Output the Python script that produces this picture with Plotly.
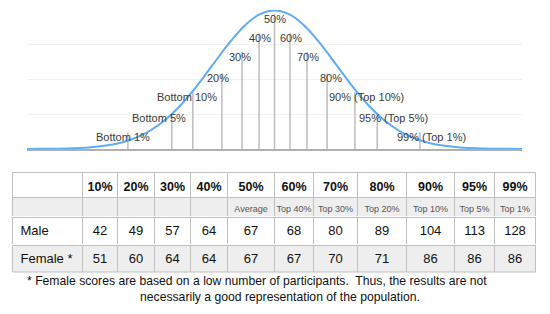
import plotly.graph_objects as go

# ---------------- data ----------------
curve_x = [-4, -3.75, -3.5, -3.25, -3, -2.75, -2.5, -2.25, -2, -1.75, -1.5, -1.25, -1, -0.75, -0.5, -0.25,
           0, 0.25, 0.5, 0.75, 1, 1.25, 1.5, 1.75, 2, 2.25, 2.5, 2.75, 3, 3.25, 3.5, 3.75, 4]
curve_y = [0.0001, 0.0004, 0.0009, 0.0020, 0.0044, 0.0091, 0.0175, 0.0317, 0.0540, 0.0863, 0.1295, 0.1826,
           0.2420, 0.3011, 0.3521, 0.3867, 0.3989, 0.3867, 0.3521, 0.3011, 0.2420, 0.1826, 0.1295, 0.0863,
           0.0540, 0.0317, 0.0175, 0.0091, 0.0044, 0.0020, 0.0009, 0.0004, 0.0001]

marker_labels = ["Bottom 1%", "Bottom 5%", "Bottom 10%", "20%", "30%", "40%", "50%",
                 "60%", "70%", "80%", "90% (Top 10%)", "95% (Top 5%)", "99% (Top 1%)"]
marker_z = [-2.37, -1.66, -1.32, -0.85, -0.525, -0.25, 0, 0.25, 0.525, 0.85, 1.30, 1.66, 2.35]

table_cols = ["10%", "20%", "30%", "40%", "50%", "60%", "70%", "80%", "90%", "95%", "99%"]
table_sub = ["", "", "", "", "Average", "Top 40%", "Top 30%", "Top 20%", "Top 10%", "Top 5%", "Top 1%"]
row_names = ["Male", "Female *"]
male = [42, 49, 57, 64, 67, 68, 80, 89, 104, 113, 128]
female = [51, 60, 64, 64, 67, 67, 70, 71, 86, 86, 86]

footnote = ["* Female scores are based on a low number of participants.  Thus, the results are not",
            "necessarily a good representation of the population."]

# ---------------- styles / positions ----------------
W, H = 550, 314
FONT = "Liberation Sans, Arial, Helvetica, sans-serif"
label_y = [0.0345, 0.089, 0.150, 0.204, 0.265, 0.319, 0.374, 0.319, 0.265, 0.204, 0.150, 0.089, 0.0345]
label_shift = [-5, -13, -6, -4, -2, 1, 0, 1, 1, 4, 12, 16, 12]
col_widths = [70, 35, 37, 36, 37, 47, 39, 44, 49, 48, 40, 41]
GRID = "#c0c0c0"
ALT = "#eeeeee"
NB = "\u00a0"
TBL_L, TBL_R = 12.5, 536
row_edges = [172, 197, 217, 245, 272]  # pixel tops/bottoms of the table rows


def px_x(p):
    return p / W


def px_y(p):
    return (H - p) / H


def nb(s):
    return str(s).replace(" ", NB)


fig = go.Figure()

# vertical percentile lines
vx, vy = [], []
for z, ly in zip(marker_z, label_y):
    vx += [z, z, None]
    vy += [0, ly + 0.014, None]
fig.add_trace(go.Scatter(x=vx, y=vy, mode="lines", line=dict(color="#bdbdbd", width=1.5),
                         hoverinfo="skip", showlegend=False))

# bell curve
fig.add_trace(go.Scatter(x=curve_x, y=curve_y, mode="lines", line=dict(color="#5eacf3", width=2, shape="spline"),
                         hoverinfo="skip", showlegend=False))

for lab, z, ly, sh in zip(marker_labels, marker_z, label_y, label_shift):
    fig.add_annotation(x=z, y=ly, text=lab, showarrow=False, xshift=sh,
                       font=dict(family=FONT, size=11, color="#3a3a3a"), xanchor="center", yanchor="middle")

n = len(table_cols) + 1
aligns = ["left"] + ["center"] * (n - 1)
x_dom = [px_x(TBL_L), px_x(TBL_R)]

rows = [
    ([""] + [f"<b>{c}</b>" for c in table_cols], "white", 12.5, "#111111"),
    ([""] + [nb(s) for s in table_sub], ALT, 9, "#555555"),
    ([nb(row_names[0])] + [str(v) for v in male], "white", 13, "#111111"),
    ([nb(row_names[1])] + [str(v) for v in female], ALT, 13, "#111111"),
]
for i, (vals, fillc, fsize, fcol) in enumerate(rows):
    top, bot = row_edges[i], row_edges[i + 1]
    fig.add_trace(go.Table(
        domain=dict(x=x_dom, y=[px_y(bot), px_y(top)]),
        columnwidth=col_widths,
        header=dict(values=vals, height=bot - top, align=aligns,
                    fill=dict(color=fillc), line=dict(color=GRID, width=1),
                    font=dict(family=FONT, size=fsize, color=fcol)),
        cells=dict(values=[[] for _ in vals], height=1, line=dict(color=GRID, width=0),
                   fill=dict(color="rgba(0,0,0,0)")),
    ))

# bottom border of the table
fig.add_shape(type="line", xref="paper", yref="paper", x0=px_x(TBL_L), x1=px_x(TBL_R),
              y0=px_y(row_edges[-1]), y1=px_y(row_edges[-1]), line=dict(color=GRID, width=1))

# footnote
fig.add_annotation(x=px_x(256.5), y=px_y(281), xref="paper", yref="paper", text=footnote[0], showarrow=False,
                   font=dict(family=FONT, size=12.2, color="#111111"), xanchor="center", yanchor="middle")
fig.add_annotation(x=px_x(279.5), y=px_y(297), xref="paper", yref="paper", text=footnote[1], showarrow=False,
                   font=dict(family=FONT, size=12.2, color="#111111"), xanchor="center", yanchor="middle")

fig.update_layout(
    width=W, height=H, margin=dict(l=0, r=0, t=0, b=0),
    paper_bgcolor="white", plot_bgcolor="white", showlegend=False,
    xaxis=dict(domain=[px_x(27), px_x(522)], range=[-4, 4], showgrid=False, zeroline=False,
               showticklabels=False, ticks="", showline=True, linecolor="#b0b0b0", linewidth=2),
    yaxis=dict(domain=[px_y(149), px_y(10)], range=[0, 0.4], dtick=0.1, showgrid=True, gridcolor="#f1f1f1",
               zeroline=False, showticklabels=False, ticks="", showline=False),
)

fig.write_html("out.html")
